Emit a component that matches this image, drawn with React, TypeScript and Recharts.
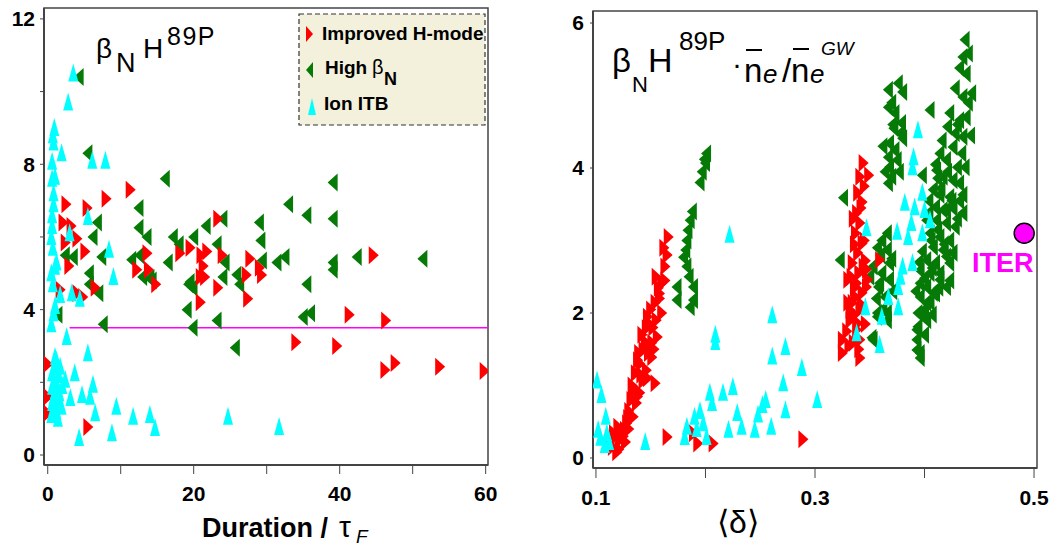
import React from 'react';
import {
  ScatterChart,
  Scatter,
  XAxis,
  YAxis,
  ReferenceArea,
  ReferenceLine,
} from 'recharts';

// ---- left panel: beta_N H89P vs duration / tau_E ----
const durTicks = [0, 10, 20, 30, 40, 50, 60];
const durValueTicks = [0, 2, 4, 6, 8, 10, 12];

const durImprovedH: [number, number][] = [
  [11.3, 7.3], [8.0, 7.05], [2.5, 6.9], [5.4, 6.8], [2.1, 6.4], [3.2, 6.3], [2.4, 5.85], [4.0, 5.95],
  [5.1, 5.6], [13.6, 5.55], [18.1, 5.55], [19.5, 5.7], [21.0, 5.5], [21.8, 5.6], [23.3, 6.5], [23.9, 5.5],
  [27.7, 5.4], [2.9, 5.2], [12.2, 5.1], [13.8, 5.1], [21.3, 5.2], [20.9, 4.9], [21.5, 4.9], [27.2, 4.95],
  [29.0, 5.15], [29.3, 4.95], [23.3, 4.6], [27.4, 4.3], [20.9, 4.2], [14.8, 4.7], [1.7, 4.55], [4.0, 4.45],
  [4.8, 4.35], [6.5, 4.6], [44.6, 5.5], [41.3, 3.86], [46.3, 3.7], [34.0, 3.1], [39.6, 3.0], [46.2, 2.34],
  [47.6, 2.53], [53.7, 2.43], [59.8, 2.31], [0, 2.5], [0, 1.6], [0, 1.15], [5.5, 0.77],
];

const durHighBeta: [number, number][] = [
  [4.3, 10.4], [5.5, 8.3], [16.1, 7.6], [12.5, 6.8], [6.8, 6.4], [6.2, 6.0], [12.5, 6.25], [13.6, 6.0],
  [17.2, 6.0], [18.0, 5.8], [2.4, 5.5], [3.5, 5.45], [7.4, 5.45], [11.5, 5.37], [12.6, 5.5], [16.5, 5.3],
  [13.0, 4.9], [14.0, 4.87], [5.7, 5.0], [5.7, 4.7], [7.0, 4.45], [19.3, 4.7], [19.1, 4.0], [7.6, 3.6],
  [1.4, 3.86], [20.0, 6.0], [21.7, 6.3], [24.0, 6.5], [29.0, 6.4], [23.2, 5.8], [29.2, 5.9], [24.3, 5.3],
  [29.4, 5.35], [31.4, 5.3], [32.5, 5.45], [39.1, 5.3], [39.1, 5.1], [42.4, 5.45], [51.4, 5.4], [39.1, 7.5],
  [33.0, 6.9], [35.5, 6.6], [39.1, 6.5], [25.9, 4.96], [26.3, 4.7], [24.0, 4.9], [19.9, 4.6], [35.5, 4.7],
  [23.2, 3.7], [19.9, 3.5], [35.0, 3.8], [36.0, 3.9], [25.7, 2.95], [14.3, 4.8], [19.5, 4.76],
];

const durIonITB: [number, number][] = [
  [3.5, 10.5], [2.8, 9.7], [0.9, 9.0], [0.7, 8.8], [0.8, 8.6], [1.9, 8.3], [0.6, 8.07], [6.1, 8.1],
  [7.9, 8.1], [1.0, 7.66], [0.6, 7.6], [0.8, 7.2], [0.8, 6.9], [0.6, 6.6], [0.6, 6.3], [0.5, 6.0],
  [3.0, 6.1], [5.5, 6.55], [0.7, 5.7], [8.4, 5.65], [1.2, 5.3], [1.0, 5.18], [0.5, 5.0], [9.0, 4.9],
  [0.7, 4.7], [1.7, 4.4], [3.3, 4.45], [4.4, 4.3], [1.0, 4.1], [0.8, 3.9], [0.5, 3.6], [2.6, 3.25],
  [1.0, 2.7], [5.5, 2.8], [1.2, 2.6], [1.7, 2.43], [1.1, 2.4], [0.6, 2.25], [3.7, 2.25], [1.5, 2.2],
  [2.4, 2.07], [0.9, 2.0], [1.3, 1.9], [2.0, 1.9], [0.6, 1.88], [6.2, 1.93], [1.0, 1.75], [1.6, 1.7],
  [4.7, 1.65], [5.8, 1.6], [0.8, 1.6], [3.1, 1.57], [1.5, 1.5], [0.6, 1.43], [1.9, 1.33], [1.0, 1.24],
  [1.2, 1.2], [0.5, 1.1], [1.4, 1.0], [9.4, 1.33], [11.7, 1.05], [14.0, 1.1], [6.5, 1.15], [14.7, 0.74],
  [8.8, 0.6], [4.3, 0.47], [24.7, 1.05], [31.7, 0.77],
];

const confinementLevel = 3.5;

// ---- right panel: beta_N H89P * n/nGW vs <delta> ----
const deltaTicks = [0.1, 0.2, 0.3, 0.4, 0.5];
const deltaValueTicks = [0, 2, 4, 6];

const deltaImprovedH: [number, number][] = [
  [0.166, 3.05], [0.165, 2.8], [0.162, 2.9], [0.163, 2.64], [0.155, 2.5], [0.163, 2.45], [0.16, 2.41],
  [0.157, 2.35], [0.158, 2.27], [0.158, 2.2], [0.154, 2.14], [0.15, 2.05], [0.16, 2.0], [0.147, 1.95],
  [0.155, 1.9], [0.149, 1.85], [0.152, 1.8], [0.146, 1.79], [0.142, 1.7], [0.156, 1.67], [0.151, 1.59],
  [0.145, 1.6], [0.148, 1.55], [0.153, 1.5], [0.143, 1.49], [0.148, 1.45], [0.139, 1.45], [0.151, 1.39],
  [0.138, 1.35], [0.14, 1.3], [0.146, 1.21], [0.136, 1.17], [0.141, 1.15], [0.147, 1.1], [0.143, 1.07],
  [0.154, 1.03], [0.133, 1.0], [0.134, 0.94], [0.14, 0.9], [0.138, 0.85], [0.132, 0.8], [0.137, 0.76],
  [0.13, 0.65], [0.134, 0.57], [0.129, 0.55], [0.128, 0.48], [0.12, 0.43], [0.13, 0.4], [0.126, 0.39],
  [0.123, 0.35], [0.116, 0.34], [0.125, 0.3], [0.118, 0.3], [0.122, 0.25], [0.127, 0.22], [0.112, 0.2],
  [0.115, 0.15], [0.121, 0.12], [0.119, 0.08], [0.165, 0.29], [0.189, 0.34], [0.193, 0.2], [0.207, 0.2],
  [0.289, 0.26],
  [0.344, 4.07], [0.349, 3.9], [0.341, 3.88], [0.345, 3.75], [0.339, 3.66], [0.343, 3.53], [0.342, 3.45],
  [0.338, 3.38], [0.335, 3.3], [0.341, 3.24], [0.337, 3.1], [0.345, 3.0], [0.343, 2.96], [0.336, 2.95],
  [0.339, 2.83], [0.359, 2.73], [0.346, 2.72], [0.334, 2.69], [0.344, 2.64], [0.347, 2.6], [0.34, 2.55],
  [0.333, 2.5], [0.348, 2.46], [0.33, 2.46], [0.338, 2.41], [0.347, 2.36], [0.336, 2.35], [0.343, 2.28],
  [0.337, 2.22], [0.334, 2.14], [0.33, 2.14], [0.342, 2.12], [0.341, 2.04], [0.332, 2.04], [0.336, 1.98],
  [0.332, 1.9], [0.339, 1.86], [0.346, 1.85], [0.338, 1.77], [0.329, 1.75], [0.325, 1.63], [0.341, 1.63],
  [0.335, 1.59], [0.331, 1.55], [0.34, 1.5], [0.325, 1.45], [0.341, 1.38],
];

const deltaHighBeta: [number, number][] = [
  [0.201, 4.2], [0.199, 4.12], [0.2, 4.07], [0.197, 3.95], [0.195, 3.8], [0.188, 3.4], [0.186, 3.28],
  [0.184, 3.14], [0.183, 3.0], [0.182, 2.87], [0.18, 2.77], [0.183, 2.64], [0.185, 2.5], [0.174, 2.36],
  [0.174, 2.18], [0.189, 2.36], [0.189, 2.18], [0.186, 2.08],
  [0.367, 5.08], [0.376, 5.17], [0.38, 5.05], [0.37, 4.9], [0.373, 4.76], [0.367, 4.84], [0.379, 4.62],
  [0.371, 4.6], [0.372, 4.55], [0.378, 4.48], [0.38, 4.41], [0.368, 4.34], [0.362, 4.3], [0.373, 4.25],
  [0.367, 4.15], [0.375, 4.11], [0.368, 4.01], [0.364, 3.95], [0.377, 3.95], [0.37, 3.88], [0.367, 3.79],
  [0.366, 3.1], [0.361, 3.0], [0.357, 2.9], [0.366, 2.87], [0.36, 2.8], [0.37, 2.75], [0.368, 2.69],
  [0.353, 2.64], [0.361, 2.55], [0.368, 2.46], [0.358, 2.36], [0.371, 2.3], [0.364, 2.22], [0.356, 2.2],
  [0.362, 2.05], [0.357, 2.0], [0.366, 1.9], [0.353, 1.63], [0.35, 2.5], [0.359, 2.41], [0.366, 2.0],
  [0.357, 1.95], [0.352, 1.66], [0.326, 3.59], [0.323, 2.73],
  [0.437, 5.77], [0.435, 5.53], [0.44, 5.58], [0.432, 5.38], [0.438, 5.3], [0.428, 5.1], [0.435, 4.98],
  [0.443, 5.03], [0.44, 4.9], [0.438, 4.7], [0.432, 4.66], [0.423, 4.76], [0.405, 4.8], [0.43, 4.6],
  [0.421, 4.57], [0.428, 4.48], [0.442, 4.45], [0.435, 4.43], [0.416, 4.38], [0.426, 4.29], [0.434, 4.2],
  [0.414, 4.2], [0.42, 4.11], [0.41, 4.05], [0.43, 4.01], [0.437, 4.01], [0.411, 3.97], [0.421, 3.95],
  [0.398, 3.9], [0.417, 3.88], [0.412, 3.86], [0.426, 3.83], [0.432, 3.79], [0.415, 3.72], [0.408, 3.7],
  [0.414, 3.63], [0.423, 3.6], [0.435, 3.63], [0.404, 3.55], [0.425, 3.55], [0.432, 3.55], [0.41, 3.46],
  [0.417, 3.42], [0.42, 3.42], [0.426, 3.45], [0.404, 3.38], [0.435, 3.38], [0.43, 3.3], [0.402, 3.28],
  [0.411, 3.28], [0.42, 3.24], [0.428, 3.19], [0.412, 3.15], [0.405, 3.1], [0.414, 3.05], [0.406, 3.0],
  [0.423, 3.0], [0.418, 2.95], [0.408, 2.91], [0.417, 2.87], [0.398, 2.85], [0.426, 2.83], [0.42, 2.78],
  [0.402, 2.73], [0.395, 2.7], [0.41, 2.69], [0.423, 2.69], [0.407, 2.62], [0.396, 2.59], [0.405, 2.55],
  [0.414, 2.55], [0.4, 2.48], [0.414, 2.46], [0.423, 2.45], [0.396, 2.41], [0.402, 2.36], [0.413, 2.35],
  [0.42, 2.36], [0.392, 2.3], [0.408, 2.28], [0.41, 2.27], [0.396, 2.22], [0.405, 2.15], [0.402, 2.14],
  [0.4, 2.05], [0.394, 2.0], [0.407, 1.98], [0.399, 1.97], [0.402, 1.9], [0.394, 1.81], [0.393, 1.77],
  [0.4, 1.7], [0.393, 1.63], [0.393, 1.49], [0.396, 1.45], [0.396, 1.38],
];

const deltaIonITB: [number, number][] = [
  [0.101, 1.07], [0.105, 0.87], [0.109, 0.57], [0.102, 0.39], [0.11, 0.34], [0.104, 0.28], [0.112, 0.22],
  [0.108, 0.18], [0.145, 0.22], [0.181, 0.29], [0.183, 0.43], [0.19, 0.57], [0.192, 0.4], [0.195, 0.65],
  [0.198, 0.48], [0.201, 0.29], [0.204, 0.9], [0.206, 0.76], [0.216, 0.9], [0.221, 0.39], [0.225, 0.98],
  [0.229, 0.62], [0.233, 0.43], [0.245, 0.39], [0.248, 0.6], [0.252, 0.73], [0.255, 0.8], [0.26, 0.43],
  [0.273, 0.66], [0.271, 1.03], [0.261, 1.4], [0.273, 1.53], [0.261, 1.97], [0.288, 1.24], [0.302, 0.8],
  [0.209, 1.7], [0.209, 1.6], [0.222, 3.08],
  [0.394, 4.52], [0.39, 4.15], [0.389, 4.01], [0.398, 3.66], [0.382, 3.52], [0.391, 3.46], [0.4, 3.42],
  [0.405, 3.28], [0.388, 3.24], [0.375, 3.12], [0.398, 3.1], [0.385, 3.05], [0.347, 3.17], [0.389, 2.69],
  [0.38, 2.64], [0.378, 2.5], [0.376, 2.36], [0.367, 2.22], [0.376, 2.08], [0.361, 1.95], [0.346, 2.08],
  [0.338, 1.72], [0.359, 1.56],
];

const iterPoint: [number, number][] = [[0.491, 3.1]];

const RED = '#ff0000';
const GREEN = '#067a06';
const CYAN = '#00ffff';
const MAGENTA = '#ff00ff';
const FONT = '"Liberation Sans", Arial, Helvetica, sans-serif';

const toXY = (pts: [number, number][]) => pts.map(([x, y]) => ({ x, y }));

const rightTri = (props: any) => {
  const { cx, cy } = props;
  if (cx == null || cy == null) return <g />;
  return <polygon points={`${cx - 4.5},${cy - 9} ${cx + 5.5},${cy} ${cx - 4.5},${cy + 9}`} fill={RED} />;
};
const leftTri = (props: any) => {
  const { cx, cy } = props;
  if (cx == null || cy == null) return <g />;
  return <polygon points={`${cx + 4.5},${cy - 9} ${cx - 5.5},${cy} ${cx + 4.5},${cy + 9}`} fill={GREEN} />;
};
const upTri = (props: any) => {
  const { cx, cy } = props;
  if (cx == null || cy == null) return <g />;
  return <polygon points={`${cx},${cy - 10} ${cx + 5},${cy + 8} ${cx - 5},${cy + 8}`} fill={CYAN} />;
};
const iterDot = (props: any) => {
  const { cx, cy } = props;
  if (cx == null || cy == null) return <g />;
  return <circle cx={cx} cy={cy} r={10} fill={MAGENTA} stroke="#000" strokeWidth={1.5} />;
};

const tickStyle = { fill: '#000', fontSize: 21, fontWeight: 'bold' as const, fontFamily: FONT };
const axisLine = { stroke: '#444', strokeWidth: 2 };

const L_X: [number, number] = [-0.51, 60.32];
const L_Y: [number, number] = [-0.275, 12.3];
const R_X: [number, number] = [0.0973, 0.5027];
const R_Y: [number, number] = [-0.138, 6.166];

export default function App() {
  return (
    <div style={{ position: 'absolute', left: 0, top: 0, width: 1058, height: 546, background: '#fff', fontFamily: FONT }}>
      <div style={{ position: 'absolute', left: 0, top: 0 }}>
        <ScatterChart width={500} height={546} margin={{ top: 8, right: 12, bottom: 41, left: 0 }}>
          <XAxis
            type="number"
            dataKey="x"
            domain={L_X}
            allowDataOverflow
            ticks={durTicks}
            interval={0}
            tickFormatter={(v: number) => (v % 20 === 0 ? String(v) : '')}
            tickSize={9}
            tickMargin={12}
            height={40}
            stroke="#444"
            axisLine={axisLine}
            tick={tickStyle}
          />
          <YAxis
            type="number"
            dataKey="y"
            domain={L_Y}
            allowDataOverflow
            ticks={durValueTicks}
            interval={0}
            tickFormatter={(v: number) => (v % 4 === 0 ? String(v) : '')}
            tickSize={4}
            tickMargin={5}
            width={44}
            stroke="#444"
            axisLine={axisLine}
            tick={tickStyle}
          />
          <ReferenceArea x1={L_X[0]} x2={L_X[1]} y1={L_Y[0]} y2={L_Y[1]} fill="none" stroke="#444" strokeWidth={1.5} />
          <ReferenceLine
            segment={[{ x: 3, y: confinementLevel }, { x: L_X[1], y: confinementLevel }]}
            stroke={MAGENTA}
            strokeWidth={1.5}
          />
          <Scatter data={toXY(durHighBeta)} shape={leftTri} isAnimationActive={false} />
          <Scatter data={toXY(durImprovedH)} shape={rightTri} isAnimationActive={false} />
          <Scatter data={toXY(durIonITB)} shape={upTri} isAnimationActive={false} />
        </ScatterChart>
      </div>

      <div style={{ position: 'absolute', left: 540, top: 0 }}>
        <ScatterChart width={518} height={546} margin={{ top: 11, right: 21, bottom: 38, left: 0 }}>
          <XAxis
            type="number"
            dataKey="x"
            domain={R_X}
            allowDataOverflow
            ticks={deltaTicks}
            interval={0}
            tickFormatter={(v: number) => (Math.round(v * 10) % 2 === 1 ? String(v) : '')}
            tickSize={10}
            tickMargin={12}
            height={40}
            stroke="#444"
            axisLine={axisLine}
            tick={tickStyle}
          />
          <YAxis
            type="number"
            dataKey="y"
            domain={R_Y}
            allowDataOverflow
            ticks={deltaValueTicks}
            interval={0}
            tickSize={3}
            tickMargin={6}
            width={53}
            stroke="#444"
            axisLine={axisLine}
            tick={tickStyle}
          />
          <ReferenceArea x1={R_X[0]} x2={R_X[1]} y1={R_Y[0]} y2={R_Y[1]} fill="none" stroke="#444" strokeWidth={1.5} />
          <Scatter data={toXY(deltaHighBeta)} shape={leftTri} isAnimationActive={false} />
          <Scatter data={toXY(deltaImprovedH)} shape={rightTri} isAnimationActive={false} />
          <Scatter data={toXY(deltaIonITB)} shape={upTri} isAnimationActive={false} />
          <Scatter data={toXY(iterPoint)} shape={iterDot} isAnimationActive={false} />
        </ScatterChart>
      </div>

      <svg width={1058} height={546} style={{ position: 'absolute', left: 0, top: 0, pointerEvents: 'none' }} fontFamily={FONT}>
        {/* left panel title */}
        <text x={96} y={58} fontSize={28} fill="#000">β</text>
        <text x={116} y={72} fontSize={27} fill="#000">N</text>
        <text x={143} y={58} fontSize={28} fill="#000">H</text>
        <text x={167} y={45} fontSize={25} fill="#000" letterSpacing={1.5}>89P</text>

        {/* legend */}
        <rect x={299} y={14} width={186} height={111} fill="#f3f1dc" stroke="#333" strokeWidth={1.2} strokeDasharray="5 3" />
        <polygon points="306,26 313,34 306,42" fill={RED} />
        <text x={322} y={40} fontSize={19} fontWeight="bold" fill="#000">Improved H-mode</text>
        <polygon points="313,62 306,70 313,78" fill={GREEN} />
        <text x={325} y={74} fontSize={19} fontWeight="bold" fill="#000">High</text>
        <text x={372} y={74} fontSize={20} fill="#000">β</text>
        <text x={384} y={85} fontSize={18} fontWeight="bold" fill="#000">N</text>
        <polygon points="312,98 316,115 308,115" fill={CYAN} />
        <text x={324} y={110} fontSize={19} fontWeight="bold" fill="#000">Ion ITB</text>

        {/* left x label */}
        <text x={202} y={537} fontSize={27} fontWeight="bold" fill="#000">Duration / </text>
        <text x={339} y={537} fontSize={30} fill="#000">τ</text>
        <text x={356} y={543} fontSize={19} fontStyle="italic" fill="#000">F</text>

        {/* right panel title */}
        <text x={612} y={72} fontSize={33} fill="#000">β</text>
        <text x={632} y={92} fontSize={22} fill="#000">N</text>
        <text x={648} y={72} fontSize={34} fill="#000">H</text>
        <text x={679} y={50} fontSize={26} fill="#000">89P</text>
        <text x={732} y={74} fontSize={30} fill="#000">·</text>
        <text x={744} y={82} fontSize={33} fill="#000">n</text>
        <line x1={746} y1={50} x2={762} y2={50} stroke="#000" strokeWidth={2} />
        <text x={763} y={83} fontSize={26} fontStyle="italic" fill="#000">e</text>
        <text x={782} y={82} fontSize={33} fill="#000">/</text>
        <text x={791} y={82} fontSize={33} fill="#000">n</text>
        <line x1={793} y1={49} x2={809} y2={49} stroke="#000" strokeWidth={2} />
        <text x={810} y={83} fontSize={26} fontStyle="italic" fill="#000">e</text>
        <text x={821} y={55} fontSize={19} fontStyle="italic" fill="#000">GW</text>

        {/* right x label */}
        <text x={738} y={533} fontSize={32} textAnchor="middle" fill="#000">⟨δ⟩</text>

        {/* ITER label */}
        <text x={972} y={272} fontSize={27} fontWeight="bold" fill={MAGENTA}>ITER</text>
      </svg>
    </div>
  );
}
